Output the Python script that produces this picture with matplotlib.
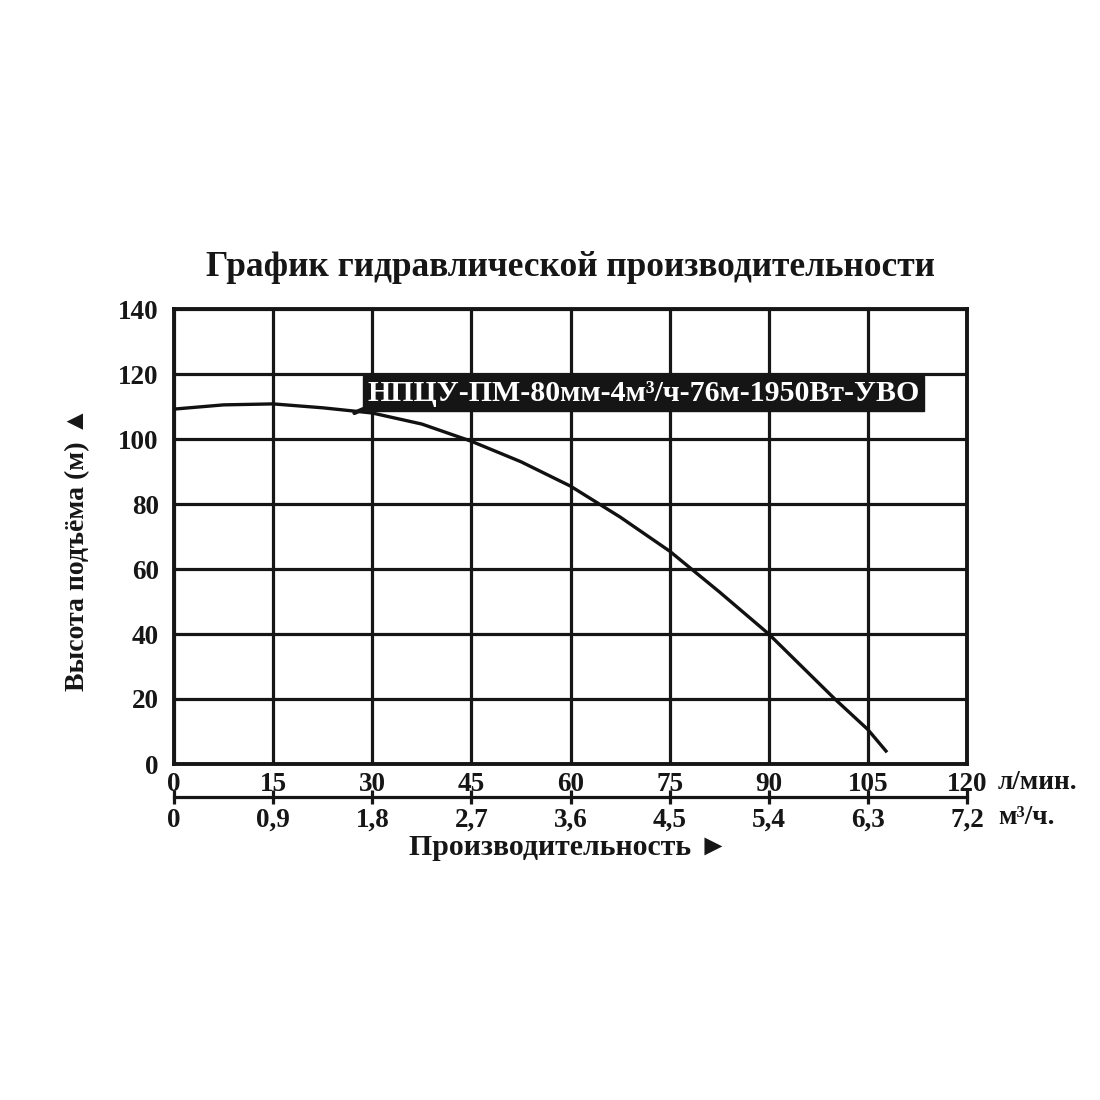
import matplotlib
matplotlib.use("Agg")
import matplotlib.pyplot as plt

plt.rcParams['font.family'] = ['Liberation Serif', 'DejaVu Serif']
plt.rcParams['font.weight'] = 'bold'

# ---- data ----
flow_lpm = [0, 7.5, 15, 22.5, 30, 37.5, 45, 52.5, 60, 67.5, 75, 82.5, 90, 97.5, 100, 105, 107.9]
head_m = [109.2, 110.5, 110.8, 109.6, 108.0, 104.6, 99.3, 93.0, 85.5, 76.0, 65.5, 53.0, 40.0, 25.0, 20.0, 10.6, 3.6]

x_ticks_lpm = [0, 15, 30, 45, 60, 75, 90, 105, 120]
x_ticks_m3h = [0, 0.9, 1.8, 2.7, 3.6, 4.5, 5.4, 6.3, 7.2]
x_labels_m3h = ['0', '0,9', '1,8', '2,7', '3,6', '4,5', '5,4', '6,3', '7,2']
y_ticks = [0, 20, 40, 60, 80, 100, 120, 140]

title = 'График гидравлической производительности'
model_label = 'НПЦУ-ПМ-80мм-4м³/ч-76м-1950Вт-УВО'
label_point = (27.3, 108.0)
label_text_pos = (29.3, 114.0)
xlabel = 'Производительность ►'
ylabel = 'Высота подъёма (м) ▲'
unit_lpm = 'л/мин.'
unit_m3h = 'м³/ч.'

INK = '#161616'

# ---- figure ----
fig = plt.figure(figsize=(11, 11), dpi=100, facecolor='white')
ax = fig.add_axes([174/1100, 1 - 764/1100, 793/1100, 455/1100])
ax.set_xlim(0, 120)
ax.set_ylim(0, 140)

ax.set_xticks(x_ticks_lpm)
ax.set_yticks(y_ticks)
ax.grid(True, color=INK, linewidth=2.3)
ax.set_axisbelow(True)
for s in ax.spines.values():
    s.set_linewidth(2.8)
    s.set_color(INK)

ax.tick_params(axis='both', length=0, labelsize=19.5, colors=INK)
ax.tick_params(axis='x', pad=6)
ax.tick_params(axis='y', pad=11)
for lab in ax.get_xticklabels() + ax.get_yticklabels():
    lab.set_fontweight('bold')

ax.plot(flow_lpm, head_m, color='#111111', linewidth=2.4, solid_capstyle='butt',
        solid_joinstyle='round', zorder=3)

# secondary flow axis (m3/h)
ax2 = ax.secondary_xaxis(-0.0725, functions=(lambda x: x * 0.06, lambda x: x / 0.06))
ax2.set_xticks(x_ticks_m3h)
ax2.set_xticklabels(x_labels_m3h, fontweight='bold')
ax2.spines['bottom'].set_linewidth(2.3)
ax2.spines['bottom'].set_color(INK)
ax2.tick_params(axis='x', direction='inout', length=10, width=2.3, labelsize=19.5, pad=3, colors=INK)

# units
ax.text(1.039, -0.040, unit_lpm, transform=ax.transAxes, ha='left', va='center',
        fontsize=19.5, fontweight='bold', color=INK)
ax.text(1.039, -0.117, unit_m3h, transform=ax.transAxes, ha='left', va='center',
        fontsize=19.5, fontweight='bold', color=INK)

# axis labels
ax.text(0.498, -0.184, xlabel, transform=ax.transAxes, ha='center', va='center',
        fontsize=21.5, fontweight='bold', color=INK)
ax.text(-0.122, 0.4725, ylabel, transform=ax.transAxes, ha='center', va='center',
        rotation=90, fontsize=20, fontweight='bold', color=INK)

# title
fig.text(0.519, 1 - 267/1100, title, ha='center', va='center', fontsize=25.5,
         fontweight='bold', color=INK)

# model label with pointer
ax.annotate(model_label, xy=label_point, xytext=label_text_pos,
            textcoords='data', ha='left', va='center', fontsize=21.5,
            fontweight='bold', color='white', zorder=5,
            bbox=dict(boxstyle='square,pad=0.14', fc='#151515', ec='#151515'),
            arrowprops=dict(arrowstyle='-', color='#151515', lw=3,
                            relpos=(0.0, 0.0), shrinkA=0, shrinkB=0))

fig.savefig('out.png', dpi=100, facecolor='white')
